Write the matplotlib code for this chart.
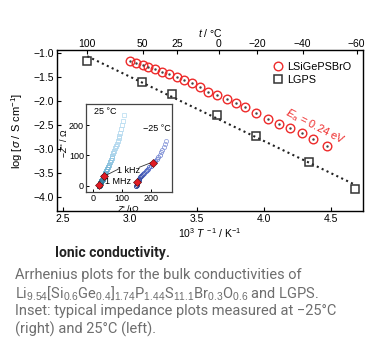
import numpy as np
import matplotlib.pyplot as plt
from matplotlib.colors import LinearSegmentedColormap

plt.rcParams['font.family'] = ['Liberation Sans', 'DejaVu Sans']
plt.rcParams['mathtext.fontset'] = 'custom'
plt.rcParams['mathtext.rm'] = 'Liberation Sans'
plt.rcParams['mathtext.it'] = 'Liberation Sans:italic'
plt.rcParams['mathtext.default'] = 'rm'

# Arrhenius data (10^3/T, log sigma)
lgps_x = [2.681, 3.087, 3.311, 3.652, 3.938, 4.338, 4.679]
lgps_y = [-1.16, -1.59, -1.85, -2.29, -2.72, -3.26, -3.83]

brx_x = [3.000, 3.045, 3.095, 3.137, 3.187, 3.237, 3.293, 3.349, 3.403, 3.460,
         3.522, 3.584, 3.651, 3.722, 3.791, 3.858, 3.940, 4.032, 4.114, 4.194,
         4.281, 4.368, 4.472]
brx_y = [-1.154, -1.196, -1.244, -1.279, -1.333, -1.383, -1.431, -1.487, -1.556, -1.625,
         -1.708, -1.799, -1.869, -1.958, -2.042, -2.117, -2.250, -2.375, -2.473, -2.562,
         -2.667, -2.792, -2.931]

top_temps = [100, 50, 25, 0, -20, -40, -60]

# inset impedance data (Z', -Z'')
z25_re = [22, 24, 26, 28, 30, 32, 34, 36, 38, 40, 42, 44, 47, 50, 53, 56, 59, 62, 65,
          68, 71, 74, 77, 80, 83, 86, 89, 92, 95, 98, 101, 104, 107]
z25_im = [0, 4, 8, 12, 16, 20, 24, 28, 31, 34, 38, 42, 49, 56, 63, 70, 77, 84, 92,
          99, 107, 115, 123, 131, 139, 147, 156, 165, 175, 186, 199, 214, 234]
zm25_re = [150, 151, 152, 154, 156, 158, 161, 164, 167, 170, 174, 178, 182, 186, 190,
           195, 200, 205, 210, 215, 220, 225, 230, 235, 240, 245, 250, 254]
zm25_im = [1, 4, 8, 12, 16, 20, 24, 28, 32, 36, 40, 44, 48, 52, 56,
           61, 66, 71, 77, 83, 89, 96, 103, 111, 119, 128, 138, 148]
khz_re = [39, 207]
khz_im = [33, 76]
mhz_re = [23, 152]
mhz_im = [3, 12]

red = '#ee2a2a'

fig = plt.figure(figsize=(3.82, 3.51), dpi=100)
ax = fig.add_axes([57/382, 1-211/351, (363-57)/382, (211-50)/351])

fit = np.polyfit(lgps_x, lgps_y, 1)
xx = np.array([lgps_x[0], lgps_x[-1]])
ax.plot(xx, np.polyval(fit, xx), ls=(0, (1, 1.6)), color='#222222', lw=1.5, zorder=2)
ax.plot(lgps_x, lgps_y, 's', ms=6.2, mfc='none', mec='#333333', mew=1.1, zorder=3, label='LGPS')
ax.plot(brx_x, brx_y, 'o', ms=6.2, mfc='none', mec=red, mew=1.0, zorder=3, label='LSiGePSBrO')
ax.plot(brx_x, brx_y, '.', ms=1.5, color='#444444', zorder=4)

h, l = ax.get_legend_handles_labels()
leg = ax.legend(h[::-1], l[::-1], loc='upper right', frameon=False, fontsize=7.8,
                handletextpad=0.2, borderaxespad=0.7, labelspacing=0.3, handlelength=1.2)

ax.text(4.385, -2.53, '$\\mathit{E}_{a}$ = 0.24 eV', color=red, fontsize=8,
        rotation=-27, ha='center', va='center')

ax.set_xlim(2.455, 4.74)
ax.set_ylim(-4.29, -0.93)
ax.set_xticks([2.5, 3.0, 3.5, 4.0, 4.5])
ax.set_yticks([-1.0, -1.5, -2.0, -2.5, -3.0, -3.5, -4.0])
ax.set_yticklabels(['\u22121.0', '\u22121.5', '\u22122.0', '\u22122.5', '\u22123.0', '\u22123.5', '\u22124.0'])
ax.tick_params(direction='in', labelsize=7.5, length=3, width=0.8, pad=2)
ax.set_xlabel('10$^{3}$ $\\mathit{T}^{\\,-1}$ / K$^{-1}$', fontsize=7.5, labelpad=2)
ax.set_ylabel('log [$\\mathit{\\sigma}$ / S cm$^{-1}$]', fontsize=8, labelpad=6)
for s in ax.spines.values():
    s.set_linewidth(1.0)
    s.set_color('#333333')

axt = ax.twiny()
axt.set_xlim(ax.get_xlim())
axt.set_xticks([1000.0 / (t + 273.15) for t in top_temps])
axt.set_xticklabels([str(t).replace('-', '\u2212') for t in top_temps])
axt.tick_params(direction='in', labelsize=7.5, length=3, width=0.8, pad=1)
axt.set_xlabel('$\\mathit{t}$ / \u00b0C', fontsize=7.5, labelpad=1)

# inset
ins = fig.add_axes([86/382, 1-192/351, 86/382, 88/351])
cm25 = LinearSegmentedColormap.from_list('c25', ['#0b5472', '#5aa7cc', '#a9d3ec', '#bfe0f2'])
cmm25 = LinearSegmentedColormap.from_list('cm25', ['#1b2d86', '#4f66c4', '#98a6df'])
n1 = len(z25_re)
for i in range(n1):
    ins.plot(z25_re[i], z25_im[i], 's', ms=3.2, mfc='none', mew=0.6, mec=cm25(i / (n1 - 1)))
n2 = len(zm25_re)
for i in range(n2):
    ins.plot(zm25_re[i], zm25_im[i], 'o', ms=3.0, mfc='none', mew=0.6, mec=cmm25(i / (n2 - 1)))
ins.plot([88, 46], [55, 35], color='#333333', lw=0.6)
ins.plot([160, 200], [61, 76], color='#333333', lw=0.6)
ins.plot(khz_re + mhz_re, khz_im + mhz_im, 'D', ms=3.8, mfc='#e01b24', mec='#550000', mew=0.4, zorder=5)
ins.text(124, 52, '1 kHz', fontsize=6.5, ha='center', va='center')
ins.text(87, 14, '1 MHz', fontsize=6.5, ha='center', va='center')
ins.text(42, 244, '25 \u00b0C', fontsize=6.5, ha='center', va='center')
ins.text(222, 190, '\u221225 \u00b0C', fontsize=6.5, ha='center', va='center')
ins.set_xlim(-23, 273)
ins.set_ylim(-20, 269)
ins.set_xticks([0, 100, 200])
ins.set_yticks([0, 100, 200])
ins.tick_params(direction='in', labelsize=6.5, length=2, width=0.7, pad=1.5)
ins.set_xlabel("$\\mathit{Z}$' / \u03a9", fontsize=6.5, labelpad=0)
ins.set_ylabel("\u2212$\\mathit{Z}$'' / \u03a9", fontsize=6.3)
ins.yaxis.set_label_coords(-0.2, 0.55)
for s in ins.spines.values():
    s.set_linewidth(0.9)
    s.set_color('#444444')

# caption
fig.text(55/382, 1-253/351, 'Ionic conductivity.', fontsize=10, fontweight='bold',
         family='Roboto', color='#222222', va='center')
cap_color = '#6e6e6e'
fig.text(15/382, 1-275/351, 'Arrhenius plots for the bulk conductivities of',
         fontsize=10.5, family='Roboto', color=cap_color, va='center')
with plt.rc_context({'mathtext.rm': 'Roboto'}):
    fig.text(15/382, 1-293/351,
             'Li$_{9.54}$[Si$_{0.6}$Ge$_{0.4}$]$_{1.74}$P$_{1.44}$S$_{11.1}$Br$_{0.3}$O$_{0.6}$ and LGPS.',
             fontsize=10.5, family='Roboto', color=cap_color, va='center')
fig.text(15/382, 1-311/351, 'Inset: typical impedance plots measured at \u221225\u00b0C',
         fontsize=10.5, family='Roboto', color=cap_color, va='center')
fig.text(15/382, 1-329/351, '(right) and 25\u00b0C (left).',
         fontsize=10.5, family='Roboto', color=cap_color, va='center')

fig.savefig('out.png', dpi=100)
